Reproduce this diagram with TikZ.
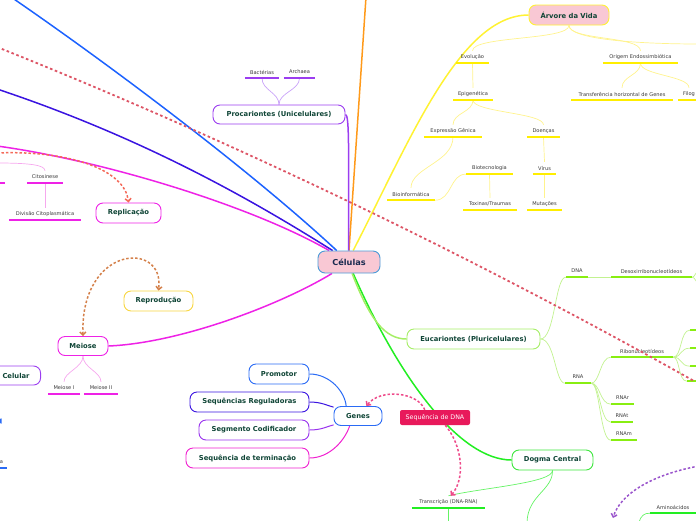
\documentclass[tikz,border=0pt]{standalone}
\usepackage{fontspec}
\setmainfont{DejaVu Sans}
\usetikzlibrary{arrows.meta,backgrounds}

\definecolor{celfill}{HTML}{F9C8D4}
\definecolor{celline}{HTML}{4A9BD8}
\definecolor{celtxt}{HTML}{1A2A50}
\definecolor{topictxt}{HTML}{0F4536}
\definecolor{leaftxt}{HTML}{3A3A3A}
\definecolor{procpurple}{HTML}{9B3DF0}
\definecolor{procpale}{HTML}{C9A2F8}
\definecolor{blueline}{HTML}{1C62FF}
\definecolor{indigo}{HTML}{3A14E0}
\definecolor{magline}{HTML}{EE22E6}
\definecolor{magpale}{HTML}{F6A8EE}
\definecolor{orangeline}{HTML}{FF9A1A}
\definecolor{yellowline}{HTML}{FFF233}
\definecolor{yellowpale}{HTML}{FFF38C}
\definecolor{yellowul}{HTML}{FFEE00}
\definecolor{repyellow}{HTML}{F8D640}
\definecolor{genesblue}{HTML}{2A6BF5}
\definecolor{genespurple}{HTML}{9933EE}
\definecolor{genesmag}{HTML}{F020D0}
\definecolor{seqred}{HTML}{E8195B}
\definecolor{dogmagreen}{HTML}{3CE63C}
\definecolor{brightgreen}{HTML}{22EE22}
\definecolor{eucgreen}{HTML}{A6EE66}
\definecolor{eucpale}{HTML}{C2F290}
\definecolor{limeul}{HTML}{88EE11}
\definecolor{reddot}{HTML}{DD5566}
\definecolor{salmon}{HTML}{F46A5A}
\definecolor{brownish}{HTML}{D4804A}
\definecolor{pinkdash}{HTML}{EE4A8A}
\definecolor{violetdash}{HTML}{9A55CC}

\tikzset{
	topic/.style={draw, rounded corners=7pt, line width=0.9pt, fill=white, inner sep=0pt,
		font=\bfseries\fontsize{6.8}{8}\selectfont, text=topictxt},
	seqbox/.style={fill=seqred, rounded corners=2pt, inner sep=0pt, text=white,
		font=\fontsize{6.3}{8}\selectfont},
	leaf/.style={inner sep=0pt, minimum height=12pt, font=\fontsize{5.1}{6}\selectfont, text=leaftxt},
	ul/.style={line width=1.5pt},
	branch/.style={line width=1.5pt},
	twig/.style={line width=0.7pt},
	gconn/.style={line width=1pt},
	dashlink/.style={line width=1.5pt, dash pattern=on 2.5pt off 2pt, -{Straight Barb[length=3pt,width=6pt]}}
	}

% leaf label with its underline: name, x, y of underline, width, colour, text
\newcommand{\leaf}[6]{%
	\node[leaf, minimum width=#4pt] (#1) at (#2,#3-6) {#6};
	\draw[ul, #5] (#1.south west) -- (#1.south east);}

\begin{document}
\begin{tikzpicture}[x=1pt, y=-1pt]

	\useasboundingbox (0,0) rectangle (696,520);
	\clip (0,0) rectangle (696,520);

	% central topic
	\node[topic, draw=celline, fill=celfill, text=celtxt, font=\bfseries\fontsize{8.2}{9}\selectfont,
		minimum width=62pt, minimum height=22pt] (cel) at (349,262) {Células};

	% main topics
	\node[topic, draw=procpurple, minimum width=132pt, minimum height=19pt] (prok) at (279,114.5) {Procariontes (Unicelulares)};
	\node[topic, draw=magline, minimum width=65pt, minimum height=20pt] (repl) at (128.5,213) {Replicação};
	\node[topic, draw=repyellow, minimum width=69pt, minimum height=20pt] (repr) at (158.5,301) {Reprodução};
	\node[topic, draw=magline, minimum width=50pt, minimum height=19pt] (meio) at (83,346) {Meiose};
	\node[topic, draw=procpurple, anchor=east, minimum height=19pt, inner xsep=11pt] (ciclo) at (41,375.5) {\hspace*{60pt}Celular};
	\node[topic, draw=genesblue, anchor=east, minimum width=40pt, minimum height=9pt] (offblue) at (1.5,421) {};
	\node[topic, draw=genesblue, minimum width=48pt, minimum height=19pt] (genes) at (358,416) {Genes};
	\node[topic, draw=genesblue, minimum width=60pt, minimum height=20pt] (prom) at (279,374) {Promotor};
	\node[topic, draw=indigo, minimum width=119pt, minimum height=20pt] (sreg) at (249.5,402) {Sequências Reguladoras};
	\node[topic, draw=genespurple, minimum width=110pt, minimum height=20pt] (scod) at (254,430) {Segmento Codificador};
	\node[topic, draw=genesmag, minimum width=123pt, minimum height=20pt] (sterm) at (247.5,458) {Sequência de terminação};
	\node[seqbox, minimum width=70pt, minimum height=15pt] (sdna) at (435,417.5) {Sequência de DNA};
	\node[topic, draw=dogmagreen, minimum width=81pt, minimum height=20pt] (dogma) at (552.5,460) {Dogma Central};
	\node[topic, draw=eucgreen, minimum width=133pt, minimum height=20pt] (euc) at (473.5,339) {Eucariontes (Pluricelulares)};
	\node[topic, draw=yellowline, fill=celfill, minimum width=80pt, minimum height=20pt] (arv) at (569,15) {Árvore da Vida};

	% leaves
	\leaf{bact}{262}{78}{34}{procpurple}{Bactérias}
	\leaf{arch}{299.5}{78}{31}{procpurple}{Archaea}
	\leaf{offm}{-5}{183}{20}{magline}{}
	\leaf{cito}{45}{183}{36}{magline}{Citosinese}
	\leaf{divc}{45}{220}{72}{magline}{Divisão Citoplasmática}
	\leaf{mei1}{64}{394}{32}{magline}{Meiose I}
	\leaf{mei2}{101}{394}{34}{magline}{Meiose II}
	\leaf{offa}{1.5}{468}{11}{genesblue}{a}
	\leaf{transc}{448.5}{508}{73}{brightgreen}{Transcrição (DNA-RNA)}
	\leaf{amino}{673}{513}{46}{brightgreen}{Aminoácidos}

	\leaf{dna}{577}{277}{22}{limeul}{DNA}
	\leaf{desox}{651.5}{277}{81}{limeul}{Desoxirribonucleotídeos}
	\leaf{rna}{578}{383}{26}{limeul}{RNA}
	\leaf{ribo}{642}{357}{62}{limeul}{Ribonucleotídeos}
	\leaf{rnar}{622.5}{404}{23}{limeul}{RNAr}
	\leaf{rnat}{622}{422}{22}{limeul}{RNAt}
	\leaf{rnam}{624}{440}{26}{limeul}{RNAm}
	\leaf{ribA}{700}{330}{20}{limeul}{}
	\leaf{ribB}{700}{348}{20}{limeul}{}
	\leaf{ribC}{700}{366}{20}{limeul}{}
	\leaf{ribD}{697}{381}{20}{limeul}{}

	\leaf{evo}{472.5}{63}{33}{yellowul}{Evolução}
	\leaf{orig}{640.5}{63}{75}{yellowul}{Origem Endossimbiótica}
	\leaf{epig}{473}{100}{40}{yellowul}{Epigenética}
	\leaf{transf}{622}{100}{102}{yellowul}{Transferência horizontal de Genes}
	\leaf{filog}{689}{100}{22}{yellowul}{Filog}
	\leaf{expr}{453}{137}{58}{yellowul}{Expressão Gênica}
	\leaf{doen}{543.5}{137}{33}{yellowul}{Doenças}
	\leaf{bioinf}{411}{200}{48}{yellowul}{Bioinformática}
	\leaf{biotec}{489.5}{174}{47}{yellowul}{Biotecnologia}
	\leaf{toxi}{490}{210}{54}{yellowul}{Toxinas/Traumas}
	\leaf{virus}{544.5}{174}{23}{yellowul}{Vírus}
	\leaf{muta}{544.5}{210}{35}{yellowul}{Mutações}

	% free ends off the page
	\coordinate (offor) at (366,-3);
	\coordinate (offbl) at (11,-3);
	\coordinate (offin) at (-3,89);
	\coordinate (offmg) at (-3,146);
	\coordinate (offrd) at (-3,47);
	\coordinate (rdend) at (694,381);
	\coordinate (offsa) at (-3,153);
	\coordinate (offcit) at (-3,163);
	\coordinate (offvi) at (699,466);
	\coordinate (viend) at (613,518);
	\coordinate (dgend) at (527,522);
	\coordinate (trend) at (448.5,522);
	\coordinate (amend) at (639,522);
	\coordinate (arvR) at (699,44);
	\coordinate (dsA) at (699,271);
	\coordinate (dsB) at (699,283);

	\begin{scope}[on background layer]
		% branches out of the central topic
		\draw[branch, orangeline] (cel.north) -- (offor);
		\draw[branch, blueline] (cel.137) .. controls (250,170) and (110,65) .. (offbl);
		\draw[branch, indigo] (cel.145) .. controls (260,205) and (150,140) .. (offin);
		\draw[branch, magline] (cel.150) .. controls (250,205) and (100,160) .. (offmg);
		\draw[branch, procpurple] (cel.92) .. controls +(0,-100) and +(4,0) .. (prok.east);
		\draw[branch, yellowline] (cel.70) .. controls (410,140) and (460,15) .. (arv.west);
		\draw[branch, brightgreen] (cel.-70) .. controls (400,380) and (460,460) .. (dogma.west);
		\draw[branch, eucgreen] (cel.-75) .. controls (370,320) and (385,339) .. (euc.west);
		\draw[branch, magline] (cel.214) .. controls (280,305) and (180,343) .. (meio.east);

		% procariontes
		\draw[twig, procpale] (prok.north) .. controls +(0,-12) and +(0,12) .. (bact.south);
		\draw[twig, procpale] (prok.north) .. controls +(0,-12) and +(0,12) .. (arch.south);

		% divisao / meiose
		\draw[twig, magpale] (offcit) .. controls (30,163) and (45,165) .. (cito.north);
		\draw[twig, magpale] (cito.south) -- (divc.north);
		\draw[twig, magpale] (meio.south) .. controls +(0,12) and +(0,-10) .. (mei1.north);
		\draw[twig, magpale] (meio.south) .. controls +(0,12) and +(0,-10) .. (mei2.north);

		% genes
		\draw[gconn, genesblue] (prom.east) .. controls (330,374) and (345,392) .. (genes.140);
		\draw[gconn, indigo] (sreg.east) .. controls (322,402) and (328,406) .. (genes.160);
		\draw[gconn, genespurple] (scod.east) .. controls (322,430) and (328,426) .. (genes.200);
		\draw[gconn, genesmag] (sterm.east) .. controls (330,458) and (345,440) .. (genes.230);

		% dogma central
		\draw[twig, brightgreen!70] (dogma.south) .. controls (553,483) and (480,488) .. (transc.north);
		\draw[twig, brightgreen!70] (dogma.south) .. controls (553,490) and (528,495) .. (dgend);
		\draw[twig, brightgreen!70] (transc.south) -- (trend);
		\draw[twig, brightgreen!70] (amino.south west) .. controls (644,513) and (641,516) .. (amend);

		% eucariontes
		\draw[twig, eucpale] (euc.east) .. controls (555,339) and (555,277) .. (dna.south west);
		\draw[twig, eucpale] (euc.east) .. controls (555,339) and (555,383) .. (rna.south west);
		\draw[twig, eucpale] (dna.south east) -- (desox.south west);
		\draw[twig, eucpale] (desox.south east) .. controls (695,277) and (695,272) .. (dsA);
		\draw[twig, eucpale] (desox.south east) .. controls (695,277) and (695,282) .. (dsB);
		\draw[twig, eucpale] (rna.south east) .. controls (600,383) and (600,357) .. (ribo.south west);
		\draw[twig, eucpale] (rna.south east) .. controls (600,383) and (600,404) .. (rnar.south west);
		\draw[twig, eucpale] (rna.south east) .. controls (600,383) and (600,422) .. (rnat.south west);
		\draw[twig, eucpale] (rna.south east) .. controls (600,383) and (600,440) .. (rnam.south west);
		\draw[twig, eucpale] (ribo.south east) .. controls (682,357) and (680,330) .. (ribA.south west);
		\draw[twig, eucpale] (ribo.south east) .. controls (682,357) and (680,348) .. (ribB.south west);
		\draw[twig, eucpale] (ribo.south east) .. controls (682,357) and (680,366) .. (ribC.south west);
		\draw[twig, eucpale] (ribo.south east) .. controls (680,357) and (678,381) .. (ribD.south west);

		% arvore da vida
		\draw[twig, yellowpale] (arv.south) .. controls +(0,15) and +(0,-15) .. (evo.north);
		\draw[twig, yellowpale] (arv.south) .. controls +(0,15) and +(0,-15) .. (orig.north);
		\draw[twig, yellowpale] (arv.south) .. controls +(0,14) and +(-60,0) .. (arvR);
		\draw[twig, yellowpale] (evo.south) -- (epig.north);
		\draw[twig, yellowpale] (orig.south) .. controls +(0,12) and +(0,-12) .. (transf.north);
		\draw[twig, yellowpale] (orig.south) .. controls +(0,12) and +(0,-12) .. (filog.north);
		\draw[twig, yellowpale] (epig.south) .. controls +(0,12) and +(0,-12) .. (expr.north);
		\draw[twig, yellowpale] (epig.south) .. controls +(0,12) and +(0,-12) .. (doen.north);
		\draw[twig, yellowpale] (expr.south) .. controls +(0,25) and +(0,-20) .. (bioinf.north);
		\draw[twig, yellowpale] (bioinf.south east) .. controls (452,200) and (450,174) .. (biotec.south west);
		\draw[twig, yellowpale] (biotec.south) -- (toxi.north);
		\draw[twig, yellowpale] (doen.south) -- (virus.north);
		\draw[twig, yellowpale] (virus.south) -- (muta.north);
	\end{scope}

	% relation links
	\draw[line width=1.8pt, reddot, dash pattern=on 2.6pt off 2.6pt] (offrd) .. controls (230,140) and (470,255) .. (rdend);
	\draw[dashlink, salmon] (offsa) .. controls (70,150) and (125,170) .. (repl.north);
	\draw[dashlink, brownish, {Straight Barb[length=3pt,width=6pt]}-{Straight Barb[length=3pt,width=6pt]}]
		(meio.north) .. controls (80,245) and (165,240) .. (repr.north);
	\draw[dashlink, pinkdash] (sdna.143) .. controls (418,392) and (380,388) .. (genes.50);
	\draw[dashlink, pinkdash] (sdna.-37) .. controls (462,445) and (466,478) .. (transc.70);
	\draw[dashlink, violetdash] (offvi) .. controls (650,475) and (620,495) .. (viend);

\end{tikzpicture}
\end{document}
